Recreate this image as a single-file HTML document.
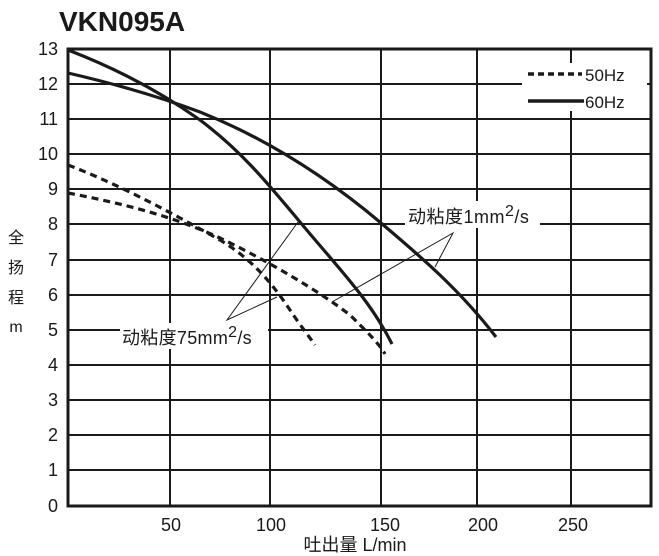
<!DOCTYPE html>
<html><head><meta charset="utf-8"><style>
body{margin:0;background:#fff;}
svg{display:block;font-family:"Liberation Sans","Noto Sans CJK SC",sans-serif;}
</style></head><body>
<svg width="659" height="556" viewBox="0 0 659 556" xmlns="http://www.w3.org/2000/svg">
<text x="59" y="31" font-size="28" font-weight="bold" fill="#1a1a1a">VKN095A</text>
<g stroke="#1a1a1a" stroke-width="2" fill="none">
<line x1="170" y1="49" x2="170" y2="506"/>
<line x1="270" y1="49" x2="270" y2="506"/>
<line x1="381" y1="49" x2="381" y2="506"/>
<line x1="477" y1="49" x2="477" y2="506"/>
<line x1="571" y1="49" x2="571" y2="506"/>
<line x1="68" y1="84" x2="651" y2="84"/>
<line x1="68" y1="119" x2="651" y2="119"/>
<line x1="68" y1="154" x2="651" y2="154"/>
<line x1="68" y1="189" x2="651" y2="189"/>
<line x1="68" y1="224" x2="651" y2="224"/>
<line x1="68" y1="260" x2="651" y2="260"/>
<line x1="68" y1="295" x2="651" y2="295"/>
<line x1="68" y1="330" x2="651" y2="330"/>
<line x1="68" y1="365" x2="651" y2="365"/>
<line x1="68" y1="400" x2="651" y2="400"/>
<line x1="68" y1="435" x2="651" y2="435"/>
<line x1="68" y1="470" x2="651" y2="470"/>
</g>
<rect x="68" y="49" width="583" height="457" fill="none" stroke="#1a1a1a" stroke-width="3"/>
<rect x="522" y="63" width="125" height="48" fill="#fff"/>
<g stroke="#1a1a1a" fill="none">
<line x1="528" y1="74" x2="582" y2="74" stroke-width="3.5" stroke-dasharray="6,4"/>
<line x1="528" y1="101" x2="584" y2="101" stroke-width="3.5"/>
</g>
<text x="585" y="81" font-size="17" fill="#1a1a1a">50Hz</text>
<text x="585" y="108" font-size="17" fill="#1a1a1a">60Hz</text>
<g stroke="#1a1a1a" stroke-width="3.2" fill="none">
<path d="M68,73 C120,85 160,97 200,112 C270,140 330,180 381,223 C420,256 460,290 496,337"/>
<path d="M68,50 C120,70 165,95 200,120 C240,150 265,180 300,222 C340,270 370,300 392,344"/>
<path d="M68,193 C120,203 170,215 220,238 C270,262 320,292 350,315 C365,330 378,342 385,354" stroke-dasharray="7,5"/>
<path d="M68,165 C120,185 170,212 220,240 C250,258 270,280 290,310 C300,325 308,335 315,345" stroke-dasharray="7,5"/>
</g>
<g stroke="#1a1a1a" stroke-width="1" fill="none">
<polyline points="298,222 227,320 277,297"/>
<polyline points="332,302 453,233 435,267"/>
</g>
<rect x="120" y="323" width="148" height="26" fill="#fff"/>
<line x1="270" y1="320" x2="270" y2="352" stroke="#1a1a1a" stroke-width="2"/>
<text x="122" y="344" font-size="18" letter-spacing="0.3" fill="#1a1a1a">动粘度75mm<tspan dy="-7" font-size="16">2</tspan><tspan dy="7">/s</tspan></text>
<rect x="405" y="201" width="135" height="27" fill="#fff"/>
<text x="408" y="223" font-size="18" letter-spacing="0.5" fill="#1a1a1a">动粘度1mm<tspan dy="-7" font-size="16">2</tspan><tspan dy="7">/s</tspan></text>
<g font-size="18" fill="#1a1a1a" text-anchor="end">
<text x="58" y="55">13</text><text x="58" y="90">12</text><text x="58" y="125">11</text>
<text x="58" y="160">10</text><text x="58" y="195">9</text><text x="58" y="230">8</text>
<text x="58" y="266">7</text><text x="58" y="301">6</text><text x="58" y="336">5</text>
<text x="58" y="371">4</text><text x="58" y="406">3</text><text x="58" y="441">2</text>
<text x="58" y="476">1</text><text x="58" y="512">0</text>
</g>
<g font-size="18" fill="#1a1a1a" text-anchor="middle">
<text x="171" y="531">50</text><text x="271" y="531">100</text><text x="385" y="531">150</text>
<text x="483" y="531">200</text><text x="573" y="531">250</text>
<text x="355" y="551">吐出量  L/min</text>
</g>
<g font-size="16" fill="#1a1a1a" text-anchor="middle">
<text x="16" y="243">全</text><text x="16" y="273">扬</text><text x="16" y="303">程</text><text x="16" y="332">m</text>
</g>
</svg>
</body></html>
